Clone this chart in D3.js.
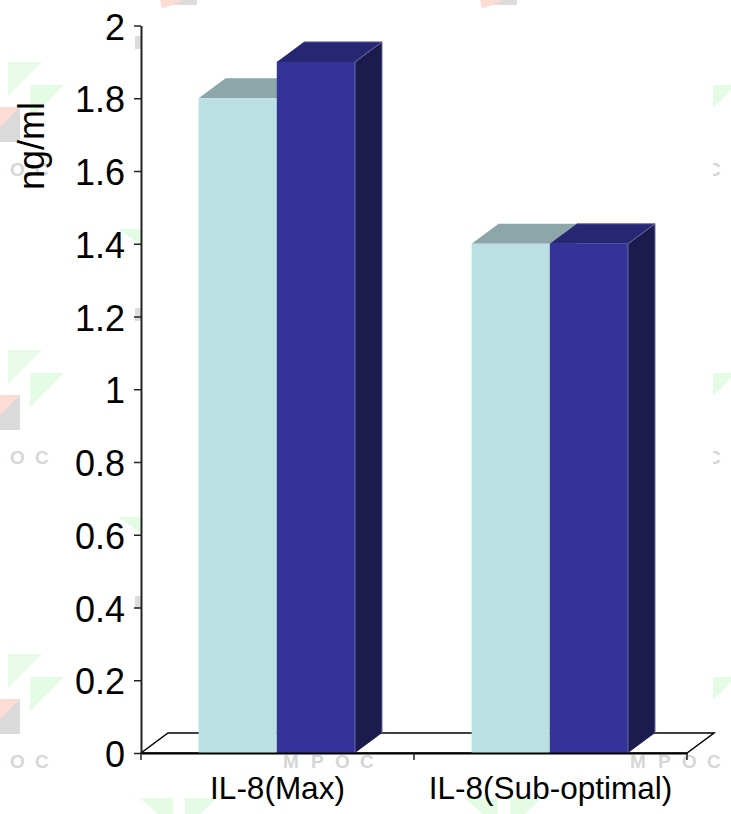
<!DOCTYPE html>
<html><head><meta charset="utf-8">
<script src="https://cdn.jsdelivr.net/npm/d3@7/dist/d3.min.js"></script>
<style>html,body{margin:0;padding:0;background:#fff}svg{display:block}text{font-family:"Liberation Sans",Arial,sans-serif}</style>
</head><body><div id="c"></div>
<script>
const categories = ["IL-8(Max)", "IL-8(Sub-optimal)"];
const seriesLight = [1.8, 1.4];
const seriesDark = [1.9, 1.4];
const yTicks = [0, 0.2, 0.4, 0.6, 0.8, 1, 1.2, 1.4, 1.6, 1.8, 2];
const watermarkX = [0, 325, 672];
const watermarkY = [0, 288, 592];
const letters = ["M", "P", "O", "C"];
const letterDx = [-42, -14, 10, 35];

const W = 731, H = 814;
const svg = d3.select("#c").append("svg").attr("width", W).attr("height", H);
const y = d3.scaleLinear().domain([0, 2]).range([753, 25.5]);
const x0 = d3.scaleBand().domain(categories).range([141, 687]);
const x1 = d3.scaleBand().domain(["a", "b"]).range([57.6, 57.6 + 2 * 78.2]);
const depthX = 27, depthY = 20;

/* ---- watermark behind the chart ---- */
const wm = svg.append("g");
const pts = a => a.map(p => p.join(",")).join(" ");
watermarkY.forEach(oy => {
  watermarkX.forEach((ox, i) => {
    letters.forEach((l, k) => {
      if (ox + letterDx[k] < 0) return;
      wm.append("text").text(l).attr("x", ox + letterDx[k]).attr("y", 176 + oy)
        .attr("font-size", 19).attr("font-weight", "bold").attr("fill", "#d6d6d6");
    });
    if (i === 1) return;
    wm.append("polygon").attr("points", pts([[ox + 8, 62 + oy], [ox + 42, 62 + oy], [ox + 8, 96 + oy]])).attr("fill", "#e8fbe8");
    wm.append("polygon").attr("points", pts([[ox + 30, 85 + oy], [ox + 64, 85 + oy], [ox + 30, 119 + oy]])).attr("fill", "#e4fbe4");
    wm.append("rect").attr("x", ox - 14).attr("y", 107 + oy).attr("width", 34).attr("height", 35).attr("fill", "#dadada");
    wm.append("polygon").attr("points", pts([[ox - 14, 107 + oy], [ox + 20, 107 + oy], [ox - 14, 142 + oy]])).attr("fill", "#fcdcd4");
  });
});
// second, offset watermark row
[[162, 0], [482, 0]].forEach(([ox]) => {
  wm.append("rect").attr("x", ox).attr("y", 0).attr("width", 35).attr("height", 5).attr("fill", "#dcdcdc");
  wm.append("polygon").attr("points", pts([[ox - 2, 0], [ox + 22, 0], [ox, 9]])).attr("fill", "#fcdcd4");
});
[[140, 798], [465, 798]].forEach(([ox, oy]) => {
  wm.append("polygon").attr("points", pts([[ox, oy], [ox + 33, oy], [ox + 33, oy + 30]])).attr("fill", "#e4fbe4");
  wm.append("polygon").attr("points", pts([[ox + 45, oy], [ox + 77, oy], [ox + 45, oy + 30]])).attr("fill", "#e4fbe4");
});
[229, 517].forEach(oy => {
  wm.append("polygon").attr("points", pts([[118, oy], [146, oy], [146, oy + 20]])).attr("fill", "#e4fbe4");
});
[36, 308, 596].forEach(oy => {
  wm.append("rect").attr("x", 135).attr("y", oy).attr("width", 8).attr("height", 13).attr("fill", "#dcdcdc");
});

/* ---- white plot panel ---- */
svg.append("rect").attr("x", 141).attr("y", 8).attr("width", 572).attr("height", 745).attr("fill", "#fff");

/* ---- floor ---- */
svg.append("polygon")
  .attr("points", pts([[x0.range()[0], y(0)], [x0.range()[0] + depthX, y(0) - depthY], [x0.range()[1] + depthX, y(0) - depthY], [x0.range()[1], y(0)]]))
  .attr("fill", "#fff").attr("stroke", "#000").attr("stroke-width", 1.5);

/* ---- 3D bars ---- */
function bar(cat, key, v, front, top, side, edge) {
  const l = x0(cat) + x1(key), r = l + x1.bandwidth(), t = y(v), b = y(0);
  const g = svg.append("g");
  g.append("polygon").attr("points", pts([[l, t], [l + depthX, t - depthY], [r + depthX, t - depthY], [r, t]])).attr("fill", top);
  g.append("polygon").attr("points", pts([[r, t], [r + depthX, t - depthY], [r + depthX, b - depthY], [r, b]])).attr("fill", side);
  g.append("rect").attr("x", l).attr("y", t).attr("width", r - l).attr("height", b - t).attr("fill", front);
  if (edge) {
    g.append("polyline").attr("points", pts([[l + depthX, t - depthY], [r + depthX, t - depthY], [r + depthX, b - depthY]]))
      .attr("fill", "none").attr("stroke", edge).attr("stroke-width", 1);
    g.append("line").attr("x1", r).attr("y1", t).attr("x2", r + depthX).attr("y2", t - depthY).attr("stroke", edge).attr("stroke-width", 1);
    g.append("line").attr("x1", r).attr("y1", t).attr("x2", r).attr("y2", b).attr("stroke", edge).attr("stroke-width", 1);
  }
}
categories.forEach((c, i) => {
  bar(c, "a", seriesLight[i], "#BAE0E3", "#8DA6A9", "#7f9a9d", null);
  bar(c, "b", seriesDark[i], "#333399", "#262672", "#1B1B4D", "#6a6aa0");
});

/* ---- axes ---- */
const yAxis = d3.axisLeft(y).tickValues(yTicks).tickFormat(d => String(d)).tickSize(7).tickSizeOuter(0).tickPadding(9);
const gy = svg.append("g").attr("transform", "translate(141,0)").call(yAxis);
gy.select(".domain").attr("stroke", "#222").attr("stroke-width", 2);
gy.selectAll(".tick line").attr("stroke", "#222").attr("stroke-width", 1.5);
gy.selectAll("text").attr("font-size", 36).attr("fill", "#000").attr("font-family", '"Liberation Sans",Arial,sans-serif').attr("dy", "0.38em");

const xAxis = d3.axisBottom(x0).tickSize(0).tickSizeOuter(0).tickPadding(0);
const gx = svg.append("g").attr("transform", `translate(0,${y(0)})`).call(xAxis);
gx.select(".domain").attr("stroke", "#000").attr("stroke-width", 2);
gx.selectAll("text").attr("font-size", 31.5).attr("fill", "#000").attr("font-family", '"Liberation Sans",Arial,sans-serif').attr("y", 46).attr("dy", 0);
const boundaries = [...categories.map(c => x0(c)), x0.range()[1]];
svg.append("g").selectAll("line").data(boundaries).join("line")
  .attr("x1", d => d).attr("x2", d => d).attr("y1", y(0)).attr("y2", y(0) + 7)
  .attr("stroke", "#222").attr("stroke-width", 1.5);

svg.append("text").text("ng/ml").attr("transform", "translate(44,146) rotate(-90)")
  .attr("text-anchor", "middle").attr("font-size", 36).attr("fill", "#000");
</script></body></html>
